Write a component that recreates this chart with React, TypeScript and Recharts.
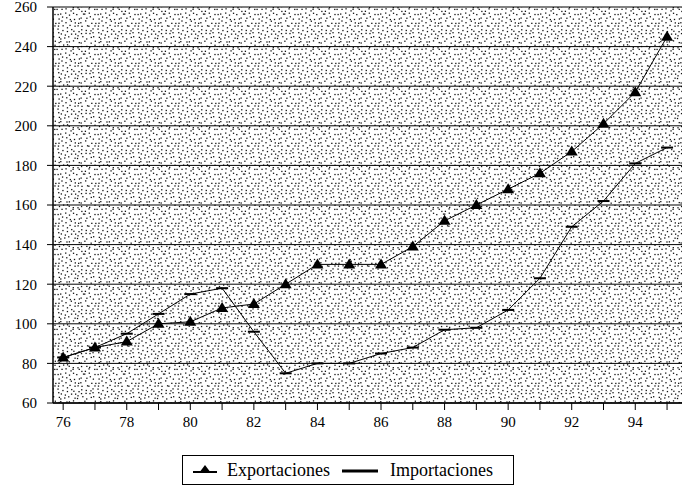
import React from 'react';
import { LineChart, Line, XAxis, YAxis, CartesianGrid } from 'recharts';

const years = [76, 77, 78, 79, 80, 81, 82, 83, 84, 85, 86, 87, 88, 89, 90, 91, 92, 93, 94, 95];
const exportaciones = [83, 88, 91, 100, 101, 108, 110, 120, 130, 130, 130, 139, 152, 160, 168, 176, 187, 201, 217, 245];
const importaciones = [83, 88, 95, 105, 115, 118, 96, 75, 80, 80, 85, 88, 97, 98, 107, 123, 149, 162, 181, 189];
const yTicks = [60, 80, 100, 120, 140, 160, 180, 200, 220, 240, 260];
const seriesNames = ['Exportaciones', 'Importaciones'];

const data = years.map((y, i) => ({ year: y, exp: exportaciones[i], imp: importaciones[i] }));

// decorative stipple tile (jittered grid)
const TILE = 40;
const stippleDots: { x: number; y: number }[] = (() => {
  const out: { x: number; y: number }[] = [];
  let s = 987654;
  const rnd = () => {
    s = (s * 1103515245 + 12345) % 2147483648;
    return s / 2147483648;
  };
  for (let i = 0; i < 10; i++) {
    for (let j = 0; j < 10; j++) {
      out.push({ x: i * 4 + rnd() * 3.2, y: j * 4 + rnd() * 3.2 });
    }
  }
  return out;
})();

const font = '"Times New Roman", "Liberation Serif", Times, serif';

const TriangleDot = (props: any) => {
  const { cx, cy, index } = props;
  if (cx == null || cy == null) return null;
  return <path key={`t${index}`} d={`M${cx},${cy - 6} L${cx + 6},${cy + 4} L${cx - 6},${cy + 4} Z`} fill="#000" />;
};

const DashDot = (props: any) => {
  const { cx, cy, index } = props;
  if (cx == null || cy == null) return null;
  return <rect key={`d${index}`} x={cx - 6} y={cy - 1} width={12} height={2} fill="#000" />;
};

export default function App() {
  return (
    <div style={{ position: 'absolute', left: 0, top: 0, width: 682, height: 495, background: '#fff', fontFamily: font }}>
      <LineChart width={682} height={495} data={data} margin={{ top: 7, right: 0, left: 0, bottom: 62 }} style={{ fontFamily: font }}>
        <defs>
          <pattern id="stipple" width={TILE} height={TILE} patternUnits="userSpaceOnUse">
            <rect width={TILE} height={TILE} fill="#fff" />
            {stippleDots.map((d, i) => (
              <rect key={i} x={d.x} y={d.y} width={1.3} height={1.3} fill="#111" />
            ))}
          </pattern>
        </defs>
        <CartesianGrid vertical={false} stroke="#000" strokeWidth={1} fill="url(#stipple)" fillOpacity={1} />
        <XAxis
          dataKey="year"
          type="number"
          domain={[75.68, 95.47]}
          ticks={years}
          allowDataOverflow
          interval={0}
          tickFormatter={(v: number) => (v % 2 === 0 ? String(v) : '')}
          height={30}
          tickSize={7}
          tickMargin={6}
          axisLine={{ stroke: '#000', strokeWidth: 1.5 }}
          tickLine={{ stroke: '#000' }}
          tick={{ fill: '#000', fontSize: 15, fontFamily: font }}
        />
        <YAxis
          type="number"
          domain={[60, 260]}
          ticks={yTicks}
          interval={0}
          width={53}
          tickSize={6}
          tickMargin={10}
          axisLine={{ stroke: '#000', strokeWidth: 1.5 }}
          tickLine={{ stroke: '#000' }}
          tick={{ fill: '#000', fontSize: 15, fontFamily: font }}
        />
        <Line
          dataKey="imp"
          name={seriesNames[1]}
          stroke="#000"
          strokeWidth={1}
          dot={DashDot}
          activeDot={false}
          isAnimationActive={false}
          type="linear"
        />
        <Line
          dataKey="exp"
          name={seriesNames[0]}
          stroke="#000"
          strokeWidth={1}
          dot={TriangleDot}
          activeDot={false}
          isAnimationActive={false}
          type="linear"
        />
      </LineChart>
      <div
        style={{
          position: 'absolute',
          left: 182,
          top: 455,
          width: 332,
          height: 30,
          border: '1px solid #000',
          boxSizing: 'border-box',
          display: 'flex',
          alignItems: 'center',
          fontSize: 18,
          color: '#000',
          fontFamily: font,
        }}
      >
        <svg width={24} height={12} style={{ marginLeft: 10 }}>
          <line x1={0} y1={8} x2={24} y2={8} stroke="#000" strokeWidth={2} />
          <path d="M12,1 L18,9 L6,9 Z" fill="#000" />
        </svg>
        <span style={{ marginLeft: 10 }}>{seriesNames[0]}</span>
        <svg width={36} height={12} style={{ marginLeft: 12 }}>
          <line x1={0} y1={7} x2={36} y2={7} stroke="#000" strokeWidth={3} />
        </svg>
        <span style={{ marginLeft: 12 }}>{seriesNames[1]}</span>
      </div>
    </div>
  );
}
